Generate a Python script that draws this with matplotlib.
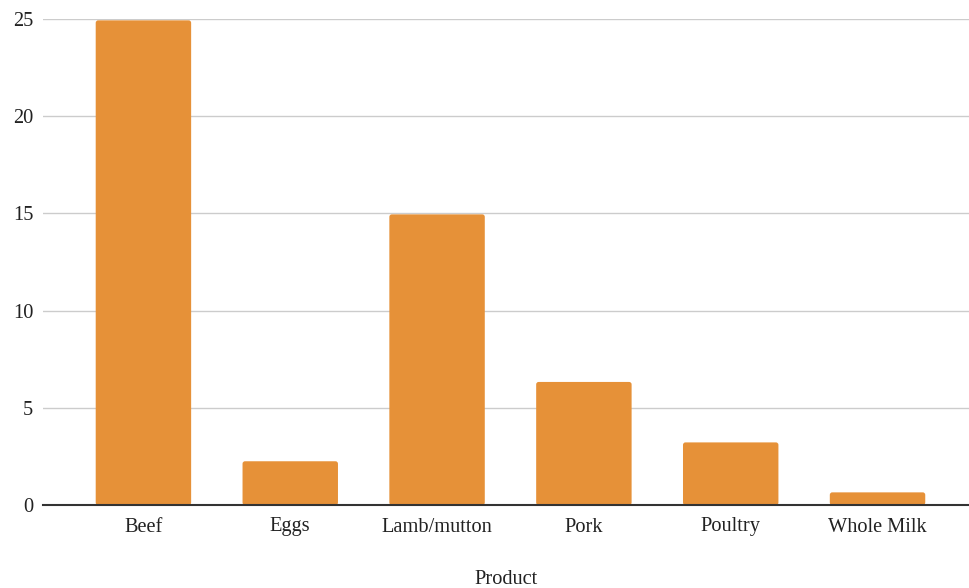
import matplotlib
matplotlib.use("Agg")
import matplotlib.pyplot as plt
from matplotlib.patches import FancyBboxPatch

products = ["Beef", "Eggs", "Lamb/mutton", "Pork", "Poultry", "Whole Milk"]
values = [24.93, 2.25, 14.95, 6.33, 3.22, 0.65]
y_ticks = [0, 5, 10, 15, 20, 25]

BAR_COLOR = "#E69138"
plt.rcParams["font.family"] = ["Liberation Serif", "DejaVu Serif"]

fig = plt.figure(figsize=(9.69, 5.88), dpi=100)
ax = fig.add_axes([43 / 969, 1 - 505 / 588, 926 / 969, 486 / 588])

x = list(range(len(products)))
bars = ax.bar(x, values, width=0.65, color=BAR_COLOR, zorder=3)

ax.set_xlim(-0.684, 5.623)
ax.set_ylim(0, 25)

# Swap the plain rectangles for ones with softly rounded corners
px_x = (5.623 + 0.684) / 926
px_y = 25 / 486
for rect in bars.patches:
    rect.set_visible(False)
    fb = FancyBboxPatch((rect.get_x(), rect.get_y()), rect.get_width(), rect.get_height(),
                        boxstyle="round,pad=0,rounding_size=%f" % (2.5 * px_x),
                        mutation_aspect=px_y / px_x,
                        facecolor=BAR_COLOR, edgecolor="none", zorder=3)
    ax.add_patch(fb)

ax.set_yticks(y_ticks)
ax.set_xticks(x)
ax.set_xticklabels(products)
ax.grid(axis="y", color="#cccccc", linewidth=1.0, zorder=0)
ax.axhline(0, color="#333333", linewidth=1.5, zorder=4, clip_on=False)

for s in ax.spines.values():
    s.set_visible(False)
ax.tick_params(axis="both", length=0, labelsize=14.7, colors="#222222")
ax.tick_params(axis="y", pad=7)
ax.tick_params(axis="x", pad=9)

ax.set_xlabel("Product", fontsize=14.7, color="#222222", labelpad=24)

fig.savefig("out.png", dpi=100)
